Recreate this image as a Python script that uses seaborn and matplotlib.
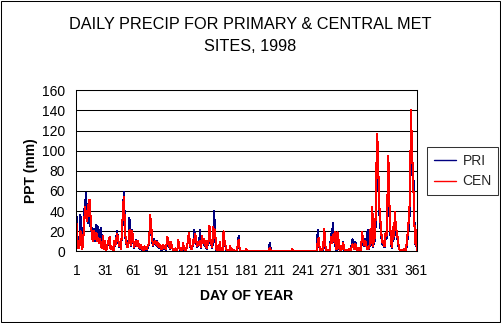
import matplotlib
matplotlib.use("Agg")
import matplotlib.pyplot as plt
import seaborn as sns
import pandas as pd
from matplotlib.patches import Rectangle
from matplotlib.lines import Line2D

# ---------------- data ----------------
days = list(range(1, 366))

pri = [
    34, 10, 5, 14, 36, 8, 4, 18, 40, 48,
    58, 33, 28, 40, 35, 20, 23, 14, 22, 10,
    20, 26, 12, 24, 8, 10, 23, 4, 12, 3,
    8, 2, 4, 6, 9, 10, 3, 4, 2, 0,
    8, 5, 14, 20, 10, 4, 6, 3, 16, 30,
    59, 35, 10, 7, 5, 9, 33, 15, 5, 21,
    10, 3, 8, 11, 6, 8, 5, 2, 5, 1,
    3, 1, 4, 2, 1, 3, 5, 8, 34, 20,
    12, 5, 12, 8, 6, 10, 4, 6, 3, 5,
    1, 3, 5, 2, 4, 1, 11, 12, 6, 2,
    7, 4, 2, 0, 1, 2, 0, 2, 9, 3,
    1, 1, 0, 6, 2, 1, 0, 4, 9, 14,
    10, 3, 2, 5, 10, 21, 12, 8, 4, 7,
    8, 21, 3, 12, 9, 10, 5, 9, 2, 6,
    8, 15, 10, 6, 3, 14, 40, 15, 2, 0,
    4, 1, 7, 0, 2, 0, 12, 8, 5, 1,
    0, 0, 0, 3, 0, 1, 0, 1, 0, 0,
    0, 4, 15, 2, 0, 0, 0, 0, 0, 0,
    1, 0, 0, 0, 0, 0, 0, 0, 0, 0,
    0, 0, 0, 0, 0, 0, 0, 0, 0, 0,
    0, 0, 0, 0, 0, 8, 3, 0, 0, 0,
    0, 0, 0, 0, 0, 0, 0, 0, 0, 0,
    0, 0, 0, 0, 0, 0, 0, 0, 0, 0,
    0, 0, 0, 0, 0, 0, 0, 0, 0, 0,
    0, 0, 0, 0, 0, 0, 0, 0, 0, 0,
    0, 0, 0, 0, 0, 0, 21, 8, 3, 0,
    0, 1, 5, 10, 4, 0, 0, 1, 0, 0,
    17, 10, 28, 12, 8, 4, 1, 10, 8, 2,
    0, 4, 2, 9, 2, 0, 1, 0, 0, 1,
    0, 0, 6, 12, 4, 2, 9, 3, 1, 0,
    2, 1, 1, 12, 9, 5, 12, 10, 8, 21,
    2, 5, 15, 6, 30, 4, 18, 10, 50, 100,
    80, 45, 30, 20, 10, 6, 8, 4, 14, 12,
    40, 80, 40, 20, 6, 3, 20, 12, 30, 18,
    15, 10, 4, 1, 0, 0, 1, 0, 1, 1,
    2, 10, 15, 30, 40, 110, 90, 70, 70, 15,
    5, 15, 0, 0, 0,
]

cen = [
    27, 8, 3, 10, 20, 6, 2, 12, 30, 44,
    35, 30, 40, 51, 51, 28, 18, 10, 20, 12,
    15, 18, 10, 13, 8, 12, 5, 3, 15, 2,
    10, 1, 3, 8, 11, 14, 2, 5, 3, 0,
    10, 6, 12, 17, 13, 5, 8, 2, 20, 36,
    54, 31, 12, 8, 4, 8, 20, 21, 6, 20,
    12, 4, 9, 10, 5, 10, 7, 3, 6, 2,
    4, 1, 5, 3, 2, 4, 6, 9, 36, 27,
    14, 6, 9, 10, 7, 9, 5, 8, 4, 6,
    2, 4, 6, 3, 5, 2, 14, 12, 8, 3,
    9, 5, 2, 0, 1, 3, 0, 2, 11, 4,
    2, 1, 0, 8, 3, 1, 0, 5, 9, 18,
    12, 4, 2, 6, 12, 8, 17, 10, 5, 9,
    6, 10, 4, 15, 8, 12, 6, 10, 3, 7,
    10, 25, 12, 8, 4, 24, 18, 21, 3, 0,
    5, 1, 9, 0, 3, 0, 20, 10, 6, 2,
    0, 0, 0, 5, 0, 2, 0, 1, 0, 0,
    0, 6, 11, 3, 0, 0, 0, 0, 0, 0,
    2, 0, 0, 0, 0, 0, 0, 0, 0, 0,
    0, 0, 0, 0, 0, 0, 0, 0, 0, 0,
    0, 0, 0, 0, 0, 3, 1, 0, 0, 0,
    0, 0, 0, 0, 0, 0, 0, 0, 0, 0,
    0, 0, 0, 0, 0, 0, 0, 0, 0, 2,
    0, 0, 0, 0, 0, 0, 0, 0, 0, 0,
    0, 0, 0, 0, 0, 0, 0, 0, 0, 0,
    0, 0, 0, 0, 0, 0, 10, 13, 4, 0,
    0, 2, 8, 22, 6, 0, 0, 1, 0, 0,
    14, 8, 16, 10, 19, 6, 2, 19, 12, 3,
    0, 5, 2, 8, 3, 0, 1, 0, 0, 2,
    0, 0, 4, 7, 5, 2, 7, 4, 1, 0,
    3, 2, 1, 19, 13, 6, 10, 9, 4, 2,
    3, 6, 22, 8, 44, 5, 23, 13, 64, 117,
    100, 51, 36, 26, 13, 8, 10, 5, 18, 15,
    51, 95, 51, 25, 8, 4, 24, 15, 39, 22,
    20, 12, 5, 1, 1, 0, 1, 0, 2, 1,
    3, 14, 20, 40, 50, 140, 105, 78, 51, 18,
    6, 21, 0, 0, 0,
]

x_ticks = [1, 31, 61, 91, 121, 151, 181, 211, 241, 271, 301, 331, 361]
y_ticks = [0, 20, 40, 60, 80, 100, 120, 140, 160]
series_names = ["PRI", "CEN"]
series_colors = {"PRI": "#000080", "CEN": "#FF0000"}
title_lines = ["DAILY PRECIP FOR PRIMARY & CENTRAL MET", "SITES, 1998"]
x_title = "DAY OF YEAR"
y_title = "PPT (mm)"

# ---------------- plot ----------------
sns.set_theme(style="white")
plt.rcParams["font.family"] = ["Liberation Sans", "DejaVu Sans"]

df = pd.DataFrame({
    "day": days + days,
    "ppt": pri + cen,
    "site": ["PRI"] * len(days) + ["CEN"] * len(days),
})

W, H = 501, 323
fig = plt.figure(figsize=(W / 100, H / 100), dpi=100)
fig.patch.set_facecolor("white")

left, right, top, bottom = 76.3, 416.5, 90.3, 251.3
ax = fig.add_axes([left / W, 1 - bottom / H, (right - left) / W, (bottom - top) / H])
ax.set_facecolor("white")

sns.lineplot(data=df, x="day", y="ppt", hue="site", hue_order=series_names,
             palette=series_colors, linewidth=0.75, estimator=None,
             legend=False, ax=ax, antialiased=False)

ax.set_xlim(0.6, 361.9)
ax.set_ylim(0, 160)
ax.set_xticks(x_ticks)
ax.set_xticklabels([str(t) for t in x_ticks])
ax.set_yticks(y_ticks)
ax.set_yticklabels([str(t) for t in y_ticks])
ax.set_xlabel("")
ax.set_ylabel("")
ax.yaxis.grid(True, color="black", linewidth=0.75)
ax.xaxis.grid(False)
ax.set_axisbelow(True)
for s in ax.spines.values():
    s.set_visible(True)
    s.set_color("black")
    s.set_linewidth(0.75)
ax.tick_params(axis="both", direction="out", length=3, width=0.75,
               color="black", labelcolor="black", labelsize=10)
ax.tick_params(axis="x", pad=6)
ax.tick_params(axis="y", pad=5)

# titles
fig.text(250 / W, 1 - 29 / H, title_lines[0], ha="center", va="baseline",
         fontsize=11.7, color="black")
fig.text(250 / W, 1 - 51 / H, title_lines[1], ha="center", va="baseline",
         fontsize=11.7, color="black")
fig.text(246.4 / W, 1 - 300 / H, x_title, ha="center", va="baseline",
         fontsize=10, fontweight="bold", color="black")
fig.text(31 / W, 1 - 170.8 / H, y_title, ha="center", va="center",
         rotation=90, fontsize=10, fontweight="bold", color="black")

# legend
handles = [Line2D([0], [0], color=series_colors[n], lw=1) for n in series_names]
leg = fig.legend(handles, series_names, loc="upper left",
                 bbox_to_anchor=(427.3 / W, 1 - 147.3 / H), borderaxespad=0,
                 frameon=True, fancybox=False, edgecolor="black", fontsize=10,
                 handlelength=1.65, handletextpad=0.45, labelspacing=0.5,
                 borderpad=0.45)
leg.get_frame().set_linewidth(0.75)

# outer chart border
fig.patches.append(Rectangle((0.5 / W, 1.5 / H), 499.5 / W, 321 / H,
                             transform=fig.transFigure, fill=False,
                             edgecolor="black", linewidth=0.75))

fig.savefig("out.png", dpi=100)
